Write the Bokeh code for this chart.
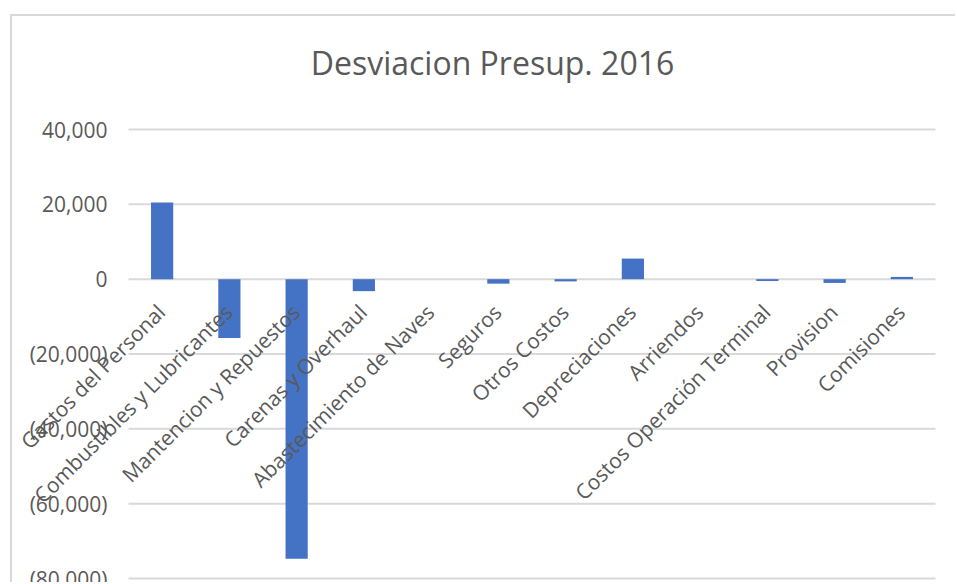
import math
from bokeh.plotting import figure
from bokeh.models import Range1d, Label, LabelSet, ColumnDataSource
from bokeh.core.properties import value
from bokeh.embed import file_html
from bokeh.resources import INLINE

categories = [
    "Gastos del Personal", "Combustibles y Lubricantes", "Mantencion y Repuestos",
    "Carenas y Overhaul", "Abastecimiento de Naves", "Seguros", "Otros Costos",
    "Depreciaciones", "Arriendos", "Costos Operación Terminal", "Provision", "Comisiones",
]
desviacion = [20500, -15700, -74700, -3200, 0, -1200, -600, 5500, 0, -500, -1000, 600]
y_ticks = [-80000, -60000, -40000, -20000, 0, 20000, 40000]
title_text = "Desviacion Presup. 2016"


def fmt(v):
    return f"({abs(v):,})" if v < 0 else f"{v:,}"


y_tick_labels = [fmt(v) for v in y_ticks]

FONT = "Open Sans"
GREY = "#595959"
GRID = "#d9d9d9"

n = len(categories)
xs = list(range(n))

# ---- layout (canvas pixels; canvas starts at page (12, 16)) ----
W, H = 945, 568
AREA_LEFT, AREA_RIGHT = 116, 923      # plot area edges
AREA_TOP, AREA_BOTTOM = 113, 562      # top / bottom gridlines
TITLE_CX, TITLE_CY = 480, 46          # title centre
cat_px = (AREA_RIGHT - AREA_LEFT) / n
ymax, ymin = max(y_ticks), min(y_ticks)
ppu = (AREA_BOTTOM - AREA_TOP) / (ymax - ymin)


def x_at(px):
    return -0.5 + (px - AREA_LEFT) / cat_px


def y_at(py):
    return ymax - (py - AREA_TOP) / ppu


p = figure(
    x_range=Range1d(x_at(0), x_at(W)),
    y_range=Range1d(y_at(H), y_at(0)),
    width=W, height=H,
    output_backend="svg", toolbar_location=None,
    min_border_left=0, min_border_right=0, min_border_top=0, min_border_bottom=0,
)
p.styles = {"margin-left": "10px", "margin-top": "14px",
            "border-top": "2px solid #d9d9d9", "border-left": "2px solid #d9d9d9"}

p.outline_line_color = None
p.xgrid.grid_line_color = None
p.ygrid.grid_line_color = None
p.xaxis.visible = False
p.yaxis.visible = False

# title
p.add_layout(Label(x=x_at(TITLE_CX), y=y_at(TITLE_CY), text=title_text,
                   text_align="center", text_baseline="middle",
                   text_font=FONT, text_font_size="32px", text_color=GREY))

# horizontal gridlines across the category area
p.segment(x0=[-0.5] * len(y_ticks), x1=[n - 0.5] * len(y_ticks),
          y0=y_ticks, y1=y_ticks, line_color=GRID, line_width=2)

tick_src = ColumnDataSource(dict(x=[-0.5] * len(y_ticks), y=y_ticks, text=y_tick_labels))
p.add_layout(LabelSet(x="x", y="y", text="text", source=tick_src,
                      text_align="right", text_baseline="middle", x_offset=-21,
                      text_font=value(FONT), text_font_size="21px", text_color=GREY))

source = ColumnDataSource(dict(x=xs, cat=categories, val=desviacion, zero=[0] * n))

p.vbar(x="x", top="val", bottom=0, width=0.33, fill_color="#4472C4",
       line_color=None, source=source)

p.add_layout(LabelSet(x="x", y="zero", text="cat", source=source,
                      angle=math.pi / 4, text_align="right", text_baseline="middle",
                      x_offset=-1, y_offset=-29, text_font=value(FONT),
                      text_font_size="21px", text_color=GREY))

open("out.html", "w").write(file_html(p, INLINE))
